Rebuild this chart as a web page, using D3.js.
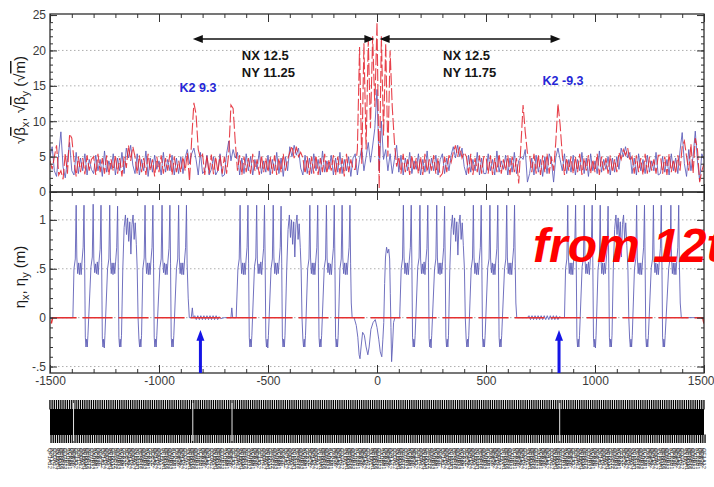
<!DOCTYPE html>
<html><head><meta charset="utf-8">
<script src="https://cdn.jsdelivr.net/npm/d3@7"></script>
<style>
body{margin:0;background:#fff;}
svg{display:block;font-family:"Liberation Sans",Arial,Helvetica,sans-serif;}
</style></head><body>
<svg id="chart" width="714" height="487"></svg>
<script>
// Optics table, sampled every 10 m from s = -1500 m
const sStart = -1500, sStep = 10;

// sqrt(beta_x) [sqrt(m)]
const betaX = [
  5.0,6.4,3.0,2.2,5.5,8.5,3.5,2.0,4.5,7.0,3.0,2.4,5.6,2.6,4.8,3.0,5.4,2.4,4.6,3.2,
  2.6,5.2,3.0,4.6,2.2,5.8,2.8,4.4,3.2,5.4,2.4,4.8,3.0,5.6,2.6,6.2,4.8,6.6,3.8,2.6,
  5.4,2.4,4.6,3.0,5.8,2.2,4.8,2.8,5.2,3.2,4.4,2.4,5.6,2.8,4.6,3.0,5.2,2.4,4.8,2.6,
  5.0,2.6,4.8,6.0,4.0,5.4,6.2,4.6,2.4,5.6,2.6,3.0,5.2,2.4,3.2,5.0,2.4,3.0,5.4,2.2,
  2.4,5.4,7.2,4.4,6.0,4.8,5.6,2.4,4.8,2.6,5.4,3.0,5.0,2.4,4.6,3.2,5.8,2.6,4.4,2.8,
  5.2,2.4,4.6,3.0,5.6,2.6,4.8,2.2,5.0,3.0,6.4,5.0,6.6,5.2,6.2,3.4,2.4,5.2,2.6,4.8,
  2.6,5.4,3.0,4.6,2.4,5.8,2.8,4.4,3.2,5.2,2.4,4.8,2.8,5.6,2.6,4.6,3.0,5.0,2.2,4.8,
  5.4,2.4,4.6,6.2,3.0,5.0,7.0,4.2,6.5,9.0,14.5,3.0,10.0,4.6,6.0,3.0,5.4,2.6,4.6,6.6,
  2.8,5.2,2.4,4.8,3.0,5.6,2.6,4.4,3.2,5.4,2.4,4.6,2.8,5.8,2.6,4.8,3.0,5.2,2.4,4.6,
  5.4,2.6,4.8,3.0,5.2,6.4,4.8,6.6,5.0,6.2,3.6,2.4,5.2,2.8,4.6,3.0,5.6,2.4,4.8,2.6,
  2.6,5.4,3.0,4.6,2.4,5.8,2.8,4.4,3.2,5.2,2.4,4.8,2.8,5.6,2.6,4.4,5.0,4.6,6.0,1.4,
  2.6,4.8,2.4,5.2,2.8,4.6,2.2,5.0,2.6,5.4,4.4,1.4,4.8,6.2,4.6,3.0,5.4,2.6,4.6,2.8,
  5.2,2.4,4.6,3.0,5.6,2.6,4.8,2.2,5.4,3.0,4.4,2.6,5.8,2.8,4.6,3.2,5.0,2.4,4.8,2.8,
  5.0,3.2,6.2,5.0,6.4,4.8,5.6,2.6,4.8,2.4,5.4,3.0,4.6,2.6,5.2,2.8,4.4,3.0,5.6,2.4,
  2.6,5.0,2.8,4.6,2.4,5.4,3.0,4.8,2.6,5.8,8.4,4.0,2.2,6.0,3.0,5.0,8.6,4.4,1.6,5.4,
  4.6
];

// sqrt(beta_y) [sqrt(m)]
const betaY = [
  4.4,3.2,5.0,6.6,2.4,3.0,1.8,5.5,2.6,8.2,7.6,4.5,2.2,5.0,2.8,4.8,2.5,5.2,3.0,4.6,
  5.0,2.4,5.4,2.8,4.8,2.6,5.2,2.4,4.6,3.0,5.2,2.6,4.8,2.2,5.0,3.4,6.6,4.4,6.4,5.0,
  2.6,5.2,2.8,4.8,2.4,5.4,3.0,4.6,2.2,5.0,2.8,5.2,2.6,4.8,3.0,5.4,2.4,5.0,2.8,4.4,
  2.8,5.0,3.0,5.5,1.5,7.5,12.6,11.0,6.0,4.8,5.3,2.4,5.2,2.6,5.3,2.5,5.0,2.8,5.2,2.6,
  5.0,2.6,5.5,12.3,11.8,7.0,3.0,5.2,2.4,5.0,2.8,4.8,2.6,5.4,3.0,4.6,2.4,5.2,2.8,4.8,
  2.8,5.0,2.6,5.2,2.4,4.8,2.8,5.4,3.0,4.6,5.6,6.5,4.8,6.4,5.0,5.6,4.8,2.6,5.0,2.4,
  5.0,2.6,5.2,2.4,4.8,2.8,5.4,2.6,4.6,3.0,5.2,2.4,5.0,2.6,4.8,2.2,5.4,2.8,4.6,3.2,
  3.2,6.0,20.5,4.0,21.0,6.0,21.5,9.0,22.0,12.0,24.0,0.5,22.0,8.0,21.0,5.0,20.0,12.0,7.0,3.6,
  5.0,2.6,5.4,2.8,4.6,2.4,5.2,3.0,4.8,2.6,5.0,2.4,5.4,2.8,4.6,3.0,5.2,2.6,4.8,2.2,
  2.6,5.0,2.8,5.2,4.2,5.6,6.6,5.0,6.4,4.8,5.6,5.0,2.6,5.4,2.4,4.8,2.8,5.2,2.6,5.0,
  5.0,2.6,5.2,2.4,4.8,2.8,5.4,2.6,4.6,3.0,5.2,2.4,5.0,2.8,4.8,1.2,6.5,12.3,8.5,5.5,
  5.2,2.8,5.4,2.6,5.3,2.4,5.2,2.8,5.4,2.6,5.0,3.0,7.0,12.5,9.5,5.2,2.4,4.8,3.0,5.0,
  2.6,5.0,2.8,5.4,2.4,4.8,3.0,5.2,2.6,4.6,2.8,5.4,2.4,5.0,3.0,4.8,2.6,5.2,2.8,4.6,
  2.8,5.6,4.6,6.0,5.2,6.2,4.4,5.0,2.6,5.2,2.8,4.8,2.4,5.4,2.6,5.0,3.0,4.6,2.6,5.2,
  5.2,2.6,5.0,2.4,5.4,2.8,4.6,2.6,5.2,3.0,6.4,7.2,5.0,3.0,6.8,2.6,7.6,6.0,1.4,3.0,
  4.0
];

// horizontal dispersion eta_x [m] as (s, eta) pairs
const etaX = [
  [-1500,0.00],[-1395,0.00],
  [-1390,0.50],[-1384,0.60],[-1380,1.15],[-1377,0.62],[-1373,0.45],[-1369,0.56],[-1365,0.44],[-1361,0.56],[-1357,0.44],[-1353,0.58],[-1348,0.72],[-1344,1.15],[-1341,0.55],[-1338,-0.20],[-1335,-0.30],[-1332,-0.22],[-1329,-0.30],[-1326,-0.18],
  [-1312,0.52],[-1306,0.62],[-1302,1.16],[-1299,0.60],[-1295,0.46],[-1291,0.55],[-1287,0.45],[-1283,0.57],[-1279,0.44],[-1275,0.58],[-1270,0.70],[-1266,1.15],[-1263,0.56],[-1260,-0.21],[-1257,-0.30],[-1254,-0.22],[-1251,-0.31],[-1248,-0.18],
  [-1236,0.50],[-1230,0.60],[-1226,1.15],[-1223,0.62],[-1219,0.45],[-1215,0.56],[-1211,0.44],[-1207,0.56],[-1203,0.45],[-1199,0.57],[-1194,0.72],[-1190,1.14],[-1187,0.55],[-1184,-0.20],[-1181,-0.30],[-1178,-0.22],[-1175,-0.30],[-1172,-0.18],
  [-1166,0.50],[-1160,0.92],[-1154,1.05],[-1149,0.85],[-1144,1.02],[-1139,0.78],[-1134,0.98],[-1129,0.65],[-1124,0.95],[-1119,1.05],[-1114,0.80],[-1109,0.97],[-1104,0.75],[-1100,0.50],[-1096,0.00],[-1092,-0.22],[-1089,-0.30],[-1086,-0.22],[-1083,-0.30],[-1080,-0.18],
  [-1074,0.50],[-1068,0.61],[-1064,1.15],[-1061,0.62],[-1057,0.45],[-1053,0.56],[-1049,0.44],[-1045,0.56],[-1041,0.44],[-1037,0.58],[-1032,0.72],[-1028,1.15],[-1025,0.55],[-1022,-0.20],[-1019,-0.30],[-1016,-0.22],[-1013,-0.30],[-1010,-0.18],
  [-996,0.51],[-990,0.60],[-986,1.15],[-983,0.61],[-979,0.46],[-975,0.56],[-971,0.44],[-967,0.55],[-963,0.44],[-959,0.58],[-954,0.71],[-950,1.15],[-947,0.55],[-944,-0.20],[-941,-0.30],[-938,-0.22],[-935,-0.30],[-932,-0.18],
  [-920,0.50],[-914,0.60],[-910,1.15],[-907,0.62],[-903,0.45],[-899,0.56],[-895,0.44],[-891,0.56],[-887,0.44],[-883,0.58],[-878,0.72],[-874,1.15],[-871,0.55],[-866,0.20],[-861,0.00],
  [-852,0.00],[-847,0.10],[-843,0.00],[-836,0.02],[-829,-0.02],[-822,0.02],[-815,-0.02],[-808,0.02],[-801,-0.02],[-794,0.02],[-787,-0.02],[-780,0.02],[-773,-0.02],[-766,0.02],[-759,-0.02],[-752,0.02],[-745,-0.02],[-738,0.02],[-731,-0.02],[-724,0.01],[-717,-0.01],[-700,0.00],[-670,0.00],[-666,0.10],[-662,0.00],[-646,0.00],
  [-638,0.50],[-632,0.60],[-628,1.15],[-625,0.62],[-621,0.45],[-617,0.56],[-613,0.44],[-609,0.56],[-605,0.44],[-601,0.58],[-596,0.72],[-592,1.15],[-589,0.55],[-586,-0.20],[-583,-0.30],[-580,-0.22],[-577,-0.30],[-574,-0.18],
  [-562,0.52],[-556,0.61],[-552,1.15],[-549,0.60],[-545,0.45],[-541,0.55],[-537,0.45],[-533,0.57],[-529,0.44],[-525,0.58],[-520,0.71],[-516,1.15],[-513,0.56],[-510,-0.21],[-507,-0.30],[-504,-0.22],[-501,-0.31],[-498,-0.18],
  [-486,0.50],[-480,0.60],[-476,1.15],[-473,0.62],[-469,0.45],[-465,0.56],[-461,0.44],[-457,0.56],[-453,0.45],[-449,0.57],[-444,0.72],[-440,1.14],[-437,0.55],[-434,-0.20],[-431,-0.30],[-428,-0.22],[-425,-0.30],[-422,-0.18],
  [-414,0.50],[-408,0.90],[-402,1.05],[-397,0.82],[-392,1.00],[-387,0.75],[-382,0.98],[-377,0.62],[-372,0.95],[-367,1.05],[-362,0.80],[-357,0.96],[-352,0.72],[-348,0.50],[-344,0.00],[-340,-0.22],[-337,-0.30],[-334,-0.22],[-331,-0.30],[-328,-0.18],
  [-318,0.50],[-312,0.60],[-308,1.15],[-305,0.62],[-301,0.45],[-297,0.56],[-293,0.44],[-289,0.56],[-285,0.44],[-281,0.58],[-276,0.72],[-272,1.15],[-269,0.55],[-266,-0.20],[-263,-0.30],[-260,-0.22],[-257,-0.30],[-254,-0.18],
  [-242,0.51],[-236,0.60],[-232,1.15],[-229,0.61],[-225,0.46],[-221,0.56],[-217,0.44],[-213,0.55],[-209,0.44],[-205,0.58],[-200,0.71],[-196,1.15],[-193,0.55],[-190,-0.20],[-187,-0.30],[-184,-0.22],[-181,-0.30],[-178,-0.18],
  [-170,0.50],[-164,0.60],[-160,1.15],[-157,0.62],[-153,0.45],[-149,0.56],[-145,0.44],[-141,0.56],[-137,0.44],[-133,0.58],[-128,0.72],[-124,1.15],[-121,0.55],[-118,0.15],[-114,0.00],
  [-105,0.00],[-95,-0.08],[-88,-0.20],[-82,-0.38],[-78,-0.42],[-73,-0.30],[-66,-0.15],[-58,-0.18],[-50,-0.30],[-42,-0.38],[-36,-0.30],[-28,-0.12],[-18,-0.05],[-8,-0.02],[0,-0.10],[8,-0.22],[15,-0.35],[22,-0.40],[27,-0.22],[31,-0.05],[35,0.35],[39,0.62],[44,0.72],[49,0.66],[54,0.70],[58,0.60],[61,0.25],[64,-0.10],[67,-0.45],[71,-0.30],[76,-0.05],[82,0.00],[104,0.00],
  [111,0.50],[117,0.60],[121,1.15],[124,0.62],[128,0.45],[132,0.56],[136,0.44],[140,0.56],[144,0.44],[148,0.58],[153,0.72],[157,1.15],[160,0.55],[163,-0.20],[166,-0.30],[169,-0.22],[172,-0.30],[175,-0.18],
  [187,0.52],[193,0.61],[197,1.15],[200,0.60],[204,0.45],[208,0.55],[212,0.45],[216,0.57],[220,0.44],[224,0.58],[229,0.71],[233,1.15],[236,0.56],[239,-0.21],[242,-0.30],[245,-0.22],[248,-0.31],[251,-0.18],
  [264,0.50],[270,0.60],[274,1.15],[277,0.62],[281,0.45],[285,0.56],[289,0.44],[293,0.56],[297,0.45],[301,0.57],[306,0.72],[310,1.14],[313,0.55],[316,-0.20],[319,-0.30],[322,-0.22],[325,-0.30],[328,-0.18],
  [334,0.50],[340,0.90],[346,1.05],[351,0.85],[356,1.02],[361,0.78],[366,0.98],[371,0.64],[376,0.95],[381,1.05],[386,0.80],[391,0.97],[396,0.74],[401,0.50],[405,0.00],[409,-0.22],[412,-0.30],[415,-0.22],[418,-0.30],[421,-0.18],
  [432,0.50],[438,0.60],[442,1.15],[445,0.62],[449,0.45],[453,0.56],[457,0.44],[461,0.56],[465,0.44],[469,0.58],[474,0.72],[478,1.15],[481,0.55],[484,-0.20],[487,-0.30],[490,-0.22],[493,-0.30],[496,-0.18],
  [508,0.51],[514,0.60],[518,1.15],[521,0.61],[525,0.46],[529,0.56],[533,0.44],[537,0.55],[541,0.44],[545,0.58],[550,0.71],[554,1.15],[557,0.55],[560,-0.20],[563,-0.30],[566,-0.22],[569,-0.30],[572,-0.18],
  [585,0.50],[591,0.60],[595,1.15],[598,0.62],[602,0.45],[606,0.56],[610,0.44],[614,0.56],[618,0.44],[622,0.58],[627,0.72],[631,1.15],[634,0.55],[637,0.15],[641,0.00],
  [690,0.00],[697,0.02],[704,-0.02],[711,0.02],[718,-0.02],[725,0.02],[732,-0.02],[739,0.02],[746,-0.02],[753,0.02],[760,-0.02],[767,0.02],[774,-0.02],[781,0.02],[788,-0.02],[795,0.02],[802,-0.02],[809,0.02],[816,-0.02],[823,0.02],[830,-0.02],[837,0.01],[845,0.00],[860,0.00],
  [865,0.50],[871,0.60],[875,1.15],[878,0.62],[882,0.45],[886,0.56],[890,0.44],[894,0.56],[898,0.44],[902,0.58],[907,0.72],[911,1.15],[914,0.55],[917,-0.20],[920,-0.30],[923,-0.22],[926,-0.30],[929,-0.18],
  [941,0.52],[947,0.61],[951,1.15],[954,0.60],[958,0.45],[962,0.55],[966,0.45],[970,0.57],[974,0.44],[978,0.58],[983,0.71],[987,1.15],[990,0.56],[993,-0.21],[996,-0.30],[999,-0.22],[1002,-0.31],[1005,-0.18],
  [1014,0.50],[1020,0.60],[1024,1.15],[1027,0.62],[1031,0.45],[1035,0.56],[1039,0.44],[1043,0.56],[1047,0.45],[1051,0.57],[1056,0.72],[1060,1.14],[1063,0.55],[1066,-0.20],[1069,-0.30],[1072,-0.22],[1075,-0.30],[1078,-0.18],
  [1084,0.50],[1090,0.90],[1096,1.05],[1101,0.85],[1106,1.02],[1111,0.80],[1116,0.98],[1121,0.62],[1126,0.95],[1131,1.05],[1136,0.80],[1141,0.97],[1146,0.74],[1151,0.50],[1155,0.00],[1159,-0.22],[1162,-0.30],[1165,-0.22],[1168,-0.30],[1171,-0.18],
  [1181,0.50],[1187,0.60],[1191,1.15],[1194,0.62],[1198,0.45],[1202,0.56],[1206,0.44],[1210,0.56],[1214,0.44],[1218,0.58],[1223,0.72],[1227,1.15],[1230,0.55],[1233,-0.20],[1236,-0.30],[1239,-0.22],[1242,-0.30],[1245,-0.18],
  [1258,0.51],[1264,0.60],[1268,1.15],[1271,0.61],[1275,0.46],[1279,0.56],[1283,0.44],[1287,0.55],[1291,0.44],[1295,0.58],[1300,0.71],[1304,1.15],[1307,0.55],[1310,-0.20],[1313,-0.30],[1316,-0.22],[1319,-0.30],[1322,-0.18],
  [1338,0.50],[1344,0.60],[1348,1.15],[1351,0.62],[1355,0.45],[1359,0.56],[1363,0.44],[1367,0.56],[1371,0.44],[1375,0.58],[1380,0.72],[1384,1.15],[1387,0.55],[1391,0.15],[1396,0.00],[1500,0.00]
];

// vertical dispersion eta_y [m]
const etaY = [[-1500,-0.12],[-1488,0.00],[1494,0.00],[1500,-0.06]];

// axes
const xTicks = [-1500,-1000,-500,0,500,1000,1500];
const betaTicks = [0,5,10,15,20,25];
const etaTicks = [-0.5,0,0.5,1];
const etaTickLabels = ["-.5","0",".5","1"];

// tune regions, sextupole families and marker locations along s
const tuneSpans = [[-845,-12],[12,842]];
const tuneLabels = [["NX 12.5","NY 11.25"],["NX 12.5","NY 11.75"]];
const k2Labels = ["K2 9.3","K2 -9.3"];
const k2S = [-835,835];
const markerS = [-810,835];
const latticeBreaks = [-1392,-845,-665,838];
const elementNames = ["QF1A12","B2A12","QD3A12","SXFA1","BPM4A1","QF5B12","BH6B12","QD7B12","SXDB1","KCK8B1","QFA2C","BDB2C"];

const svg = d3.select("#chart");
const W = 714, H = 487;
svg.append("rect").attr("width",W).attr("height",H).attr("fill","#fff");

const x = d3.scaleLinear().domain([-1500,1500]).range([50,704]);
const yB = d3.scaleLinear().domain([0,25.15]).range([192,14]);
const yE = d3.scaleLinear().domain([-0.566,1.285]).range([373,192]);

const grid = betaX.map((_, i) => sStart + i * sStep);

const defs = svg.append("defs");
defs.append("clipPath").attr("id","clipTop").append("rect")
  .attr("x",x.range()[0]).attr("y",yB.range()[1])
  .attr("width",x.range()[1]-x.range()[0]).attr("height",yB.range()[0]-yB.range()[1]);
defs.append("clipPath").attr("id","clipBot").append("rect")
  .attr("x",x.range()[0]).attr("y",yE.range()[1])
  .attr("width",x.range()[1]-x.range()[0]).attr("height",yE.range()[0]-yE.range()[1]);

// dotted grid
svg.append("g").selectAll("line").data(betaTicks.filter(v => v > 0 && v < 25)).join("line")
  .attr("x1",x.range()[0]).attr("x2",x.range()[1]).attr("y1",d=>yB(d)).attr("y2",d=>yB(d))
  .attr("stroke","#9a9a9a").attr("stroke-width",0.8).attr("stroke-dasharray","1.5,2.5");
svg.append("g").selectAll("line").data(etaTicks).join("line")
  .attr("x1",x.range()[0]).attr("x2",x.range()[1]).attr("y1",d=>yE(d)).attr("y2",d=>yE(d))
  .attr("stroke","#9a9a9a").attr("stroke-width",0.8).attr("stroke-dasharray","1.5,2.5");

// beta functions
const lineB = d3.line().x((d,i)=>x(grid[i])).y(d=>yB(d));
const gTop = svg.append("g").attr("clip-path","url(#clipTop)");
gTop.append("path").attr("d",lineB(betaX)).attr("fill","none")
  .attr("stroke","#5a5ab8").attr("stroke-width",1).attr("stroke-opacity",0.85);
gTop.append("path").attr("d",lineB(betaY)).attr("fill","none")
  .attr("stroke","#e3202c").attr("stroke-width",1.1).attr("stroke-opacity",0.85)
  .attr("stroke-dasharray","12,3");

// dispersion
const lineE = d3.line().x(d=>x(d[0])).y(d=>yE(d[1]));
const gBot = svg.append("g").attr("clip-path","url(#clipBot)");
gBot.append("path").attr("d",lineE(etaX)).attr("fill","none")
  .attr("stroke","#6262b8").attr("stroke-width",1).attr("stroke-opacity",0.9);
gBot.append("path").attr("d",lineE(etaY)).attr("fill","none")
  .attr("stroke","#e53030").attr("stroke-width",1.5)
  .attr("stroke-dasharray","30,6").attr("stroke-dashoffset",-6);

// axes: ticks on all sides, pointing inward
const xMinor = d3.range(-1500,1501,100);
function tickGroup(axis, tr) {
  const g = svg.append("g").attr("transform",tr).call(axis);
  g.select(".domain").remove();
  g.selectAll(".tick line").attr("stroke","#333").attr("stroke-width",1);
  g.selectAll(".tick text").attr("fill","#3a3a3a").style("font-size","12px")
    .style("font-family","'Liberation Sans',Arial,sans-serif");
  return g;
}
const noLab = () => "";
// x ticks: top of upper panel, shared border (both directions), bottom of lower panel
tickGroup(d3.axisTop(x).tickValues(xMinor).tickSize(-4).tickFormat(noLab), `translate(0,${yB.range()[1]})`);
tickGroup(d3.axisTop(x).tickValues(xTicks).tickSize(-8).tickFormat(noLab), `translate(0,${yB.range()[1]})`);
tickGroup(d3.axisBottom(x).tickValues(xMinor).tickSize(-4).tickFormat(noLab), `translate(0,${yB.range()[0]})`);
tickGroup(d3.axisBottom(x).tickValues(xTicks).tickSize(-8).tickFormat(noLab), `translate(0,${yB.range()[0]})`);
tickGroup(d3.axisTop(x).tickValues(xMinor).tickSize(-4).tickFormat(noLab), `translate(0,${yE.range()[1]})`);
tickGroup(d3.axisTop(x).tickValues(xTicks).tickSize(-8).tickFormat(noLab), `translate(0,${yE.range()[1]})`);
tickGroup(d3.axisBottom(x).tickValues(xMinor).tickSize(-4).tickFormat(noLab), `translate(0,${yE.range()[0]})`);
const gx = tickGroup(d3.axisBottom(x).tickValues(xTicks).tickSize(-8).tickPadding(3).tickFormat(d=>String(d)), `translate(0,${yE.range()[0]})`);
// keep the outermost label inside the page
gx.selectAll(".tick text").filter(d => d === xTicks[xTicks.length-1]).attr("text-anchor","end").attr("x",10);

// y ticks upper panel
const bMinor = d3.range(0,26,1);
tickGroup(d3.axisLeft(yB).tickValues(bMinor).tickSize(-3).tickFormat(noLab), `translate(${x.range()[0]},0)`);
tickGroup(d3.axisLeft(yB).tickValues(betaTicks).tickSize(-7).tickPadding(4).tickFormat(d=>String(d)), `translate(${x.range()[0]},0)`);
tickGroup(d3.axisRight(yB).tickValues(bMinor).tickSize(-3).tickFormat(noLab), `translate(${x.range()[1]},0)`);
tickGroup(d3.axisRight(yB).tickValues(betaTicks).tickSize(-7).tickFormat(noLab), `translate(${x.range()[1]},0)`);
// y ticks lower panel
const eMinor = d3.range(-5,13,1).map(v => v/10);
tickGroup(d3.axisLeft(yE).tickValues(eMinor).tickSize(-3).tickFormat(noLab), `translate(${x.range()[0]},0)`);
tickGroup(d3.axisLeft(yE).tickValues(etaTicks).tickSize(-7).tickPadding(4).tickFormat((d,i)=>etaTickLabels[i]), `translate(${x.range()[0]},0)`);
tickGroup(d3.axisRight(yE).tickValues(eMinor).tickSize(-3).tickFormat(noLab), `translate(${x.range()[1]},0)`);
tickGroup(d3.axisRight(yE).tickValues(etaTicks).tickSize(-7).tickFormat(noLab), `translate(${x.range()[1]},0)`);

// frames
[[yB.range()[1], yB.range()[0]], [yE.range()[1], yE.range()[0]]].forEach(([t,b]) => {
  svg.append("rect").attr("x",x.range()[0]).attr("y",t)
    .attr("width",x.range()[1]-x.range()[0]).attr("height",b-t)
    .attr("fill","none").attr("stroke","#2e2e2e").attr("stroke-width",1.3);
});

// axis titles
function richTitle(tx, ty, parts) {
  const t = svg.append("text").attr("transform",`translate(${tx},${ty}) rotate(-90)`)
    .attr("text-anchor","middle").attr("fill","#1a1a1a").style("font-size","15px");
  let shift = 0;
  parts.forEach(([s, kind]) => {
    const ts = t.append("tspan").text(s);
    if (kind === "sub") { ts.attr("dy", 4 - shift).style("font-size","11px"); shift = 4; }
    else { if (shift) ts.attr("dy", -shift); shift = 0; }
    if (kind === "ol") ts.style("text-decoration","overline");
  });
}
richTitle(25, 100, [["\u221a",""],["\u03b2","ol"],["x","sub"],[", \u221a",""],["\u03b2","ol"],["y","sub"],[" (\u221a",""],["m","ol"],[")",""]]);
richTitle(25, 277, [["\u03b7",""],["x","sub"],[", \u03b7",""],["y","sub"],[" (m)",""]]);

// tune region arrows and labels
const arrowY = 39;
const tuneLabelS = [-620, 303];
tuneSpans.forEach(([a,b], i) => {
  const x0 = x(a), x1 = x(b);
  svg.append("line").attr("x1",x0+8).attr("x2",x1-8).attr("y1",arrowY).attr("y2",arrowY)
    .attr("stroke","#111").attr("stroke-width",1.6);
  svg.append("path").attr("d",`M${x0},${arrowY}L${x0+10},${arrowY-4}L${x0+10},${arrowY+4}Z`).attr("fill","#111");
  svg.append("path").attr("d",`M${x1},${arrowY}L${x1-10},${arrowY-4}L${x1-10},${arrowY+4}Z`).attr("fill","#111");
  tuneLabels[i].forEach((txt, j) => {
    svg.append("text").attr("x",x(tuneLabelS[i])).attr("y",60 + j*16.5).text(txt)
      .attr("fill","#151515").style("font-size","13px").style("font-weight","bold");
  });
});

// sextupole family labels
k2Labels.forEach((txt, i) => {
  svg.append("text").attr("x",x(k2S[i]) + (i === 0 ? 3 : 4)).attr("y", i === 0 ? 92 : 85)
    .attr("text-anchor","middle").text(txt)
    .attr("fill","#2626d6").style("font-size","12.5px").style("font-weight","bold");
});

// marker arrows in the dispersion panel
markerS.forEach(s => {
  const cx = x(s), yTip = yE(-0.125), yBase = yE(-0.225);
  svg.append("rect").attr("x",cx-1.5).attr("y",yBase).attr("width",3).attr("height",yE.range()[0]-yBase)
    .attr("fill","#1515e6");
  svg.append("path").attr("d",`M${cx},${yTip}L${cx-4},${yBase+1}L${cx+4},${yBase+1}Z`).attr("fill","#1515e6");
});

// lattice strip
const latTop = 400, latMidTop = 409, latMidBot = 435, latBot = 443;
const gLat = svg.append("g");
gLat.append("rect").attr("x",x(-1500)).attr("y",latMidTop).attr("width",x(1500)-x(-1500)).attr("height",latMidBot-latMidTop).attr("fill","#000");
gLat.selectAll("rect.t").data(grid).join("rect").attr("class","t")
  .attr("x",d=>x(d)-0.7).attr("y",latTop).attr("width",1.3).attr("height",latMidTop-latTop+0.5).attr("fill","#000");
gLat.selectAll("rect.b").data(grid).join("rect").attr("class","b")
  .attr("x",d=>x(d)+0.4).attr("y",latMidBot-0.5).attr("width",1.3).attr("height",latBot-latMidBot+0.5).attr("fill","#000");
gLat.selectAll("line.brk").data(latticeBreaks).join("line").attr("class","brk")
  .attr("x1",d=>x(d)).attr("x2",d=>x(d)).attr("y1",latTop+3).attr("y2",latBot-2)
  .attr("stroke","#fff").attr("stroke-width",0.9);

// element names under the strip
svg.append("g").selectAll("text").data(grid).join("text")
  .attr("transform",(d)=>`translate(${x(d)-1.8},448) rotate(90)`)
  .text((d,i)=>elementNames[i % elementNames.length])
  .attr("fill","#2a2a2a").style("font-size","5.6px");

// overlay note
svg.append("text").attr("x",533).attr("y",262).text("from 12th")
  .attr("fill","#ff0000").style("font-size","48px").style("font-weight","bold").style("font-style","italic");
</script>
</body></html>
